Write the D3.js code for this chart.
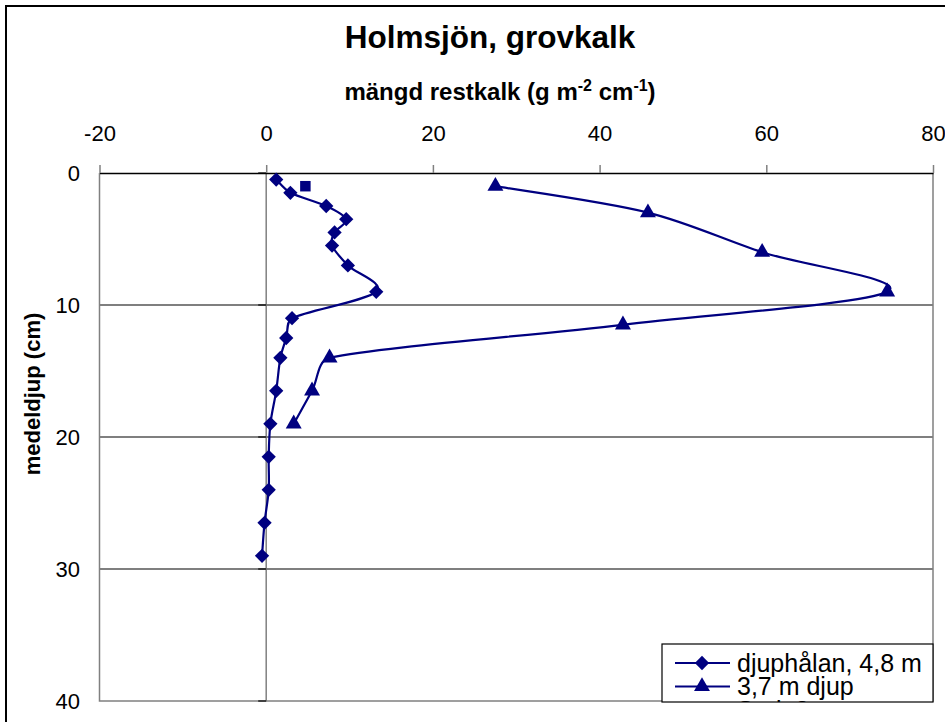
<!DOCTYPE html>
<html>
<head>
<meta charset="utf-8">
<script src="https://cdn.jsdelivr.net/npm/d3@7"></script>
<style>
  body { margin: 0; background: #fff; }
  svg { display: block; font-family: "Liberation Sans", Arial, sans-serif; }
</style>
</head>
<body>
<div id="chart"></div>
<script>
// series: djuphålan, 4,8 m
const depth1 = [0.5, 1.5, 2.5, 3.5, 4.5, 5.5, 7, 9, 11, 12.5, 14, 16.5, 19, 21.5, 24, 26.5, 29];
const value1 = [1.2, 2.9, 7.2, 9.6, 8.2, 7.9, 9.8, 13.2, 3.1, 2.4, 1.7, 1.2, 0.5, 0.3, 0.3, -0.2, -0.5];
// series: 3,7 m djup
const depth2 = [1, 3, 6, 9, 11.5, 14, 16.5, 19];
const value2 = [27.5, 45.8, 59.5, 74.5, 42.8, 7.6, 5.5, 3.3];
// Serie3 (single point)
const depth3 = [1];
const value3 = [4.7];

const xTicks = [-20, 0, 20, 40, 60, 80];
const yTicks = [0, 10, 20, 30, 40];
const gridDepths = [10, 20, 30];
const legendNames = ["djuphålan, 4,8 m", "3,7 m djup", "Serie3"];

const width = 945, height = 722;
const navy = "#000080";

// smoothing like the spreadsheet: bezier with control points at 1/6 of
// the neighbour span, but never longer than a third of the segment
function smoothCurve(context) {
    let pts = [];
    return {
        areaStart() {}, areaEnd() {},
        lineStart() { pts = []; },
        point(px, py) { pts.push([px, py]); },
        lineEnd() {
            let n = pts.length;
            if (!n) return;
            context.moveTo(pts[0][0], pts[0][1]);
            for (let i = 0; i < n - 1; i++) {
                let p0 = pts[Math.max(i - 1, 0)], p1 = pts[i],
                    p2 = pts[i + 1], p3 = pts[Math.min(i + 2, n - 1)];
                let seg = Math.hypot(p2[0] - p1[0], p2[1] - p1[1]);
                let c1 = ctrl(p1, p0, p2, seg, 1);
                let c2 = ctrl(p2, p1, p3, seg, -1);
                context.bezierCurveTo(c1[0], c1[1], c2[0], c2[1], p2[0], p2[1]);
            }
        }
    };
    function ctrl(p, a, b, seg, sign) {
        let tx = (b[0] - a[0]) / 6, ty = (b[1] - a[1]) / 6;
        let len = Math.hypot(tx, ty), cap = seg / 3;
        if (len > cap && len > 0) { tx *= cap / len; ty *= cap / len; }
        return [p[0] + sign * tx, p[1] + sign * ty];
    }
}

const svg = d3.select("#chart").append("svg")
    .attr("width", width)
    .attr("height", height);

// outer chart border
svg.append("rect")
    .attr("x", 6).attr("y", 6)
    .attr("width", 960).attr("height", 740)
    .attr("fill", "#fff")
    .attr("stroke", "#000")
    .attr("stroke-width", 2);

let x = d3.scaleLinear().domain([-20, 80]).range([99.5, 933]);
let y = d3.scaleLinear().domain([0, 40]).range([173, 701]);

// title
svg.append("text")
    .attr("x", 490).attr("y", 48)
    .attr("text-anchor", "middle")
    .attr("font-size", 31.5)
    .attr("font-weight", "bold")
    .text("Holmsjön, grovkalk");

// x axis title with superscripts
let xt = svg.append("text")
    .attr("x", 500).attr("y", 100)
    .attr("text-anchor", "middle")
    .attr("font-size", 24)
    .attr("font-weight", "bold");
xt.append("tspan").text("mängd restkalk (g m");
xt.append("tspan").attr("dy", -9).attr("font-size", 16).text("-2");
xt.append("tspan").attr("dy", 9).text(" cm");
xt.append("tspan").attr("dy", -9).attr("font-size", 16).text("-1");
xt.append("tspan").attr("dy", 9).text(")");

// y axis title
svg.append("text")
    .attr("transform", "translate(40,394)rotate(-90)")
    .attr("text-anchor", "middle")
    .attr("font-size", 22)
    .attr("font-weight", "bold")
    .text("medeldjup (cm)");

// gridlines
svg.append("g")
  .selectAll("line")
  .data(gridDepths)
  .join("line")
    .attr("x1", x(-20)).attr("x2", x(80))
    .attr("y1", d => y(d)).attr("y2", d => y(d))
    .attr("stroke", "#000")
    .attr("stroke-width", 1.2);

// plot border (gray)
svg.append("path")
    .attr("d", `M${x(-20)},${y(0)}V${y(40)}H${x(80)}V${y(0)}`)
    .attr("fill", "none")
    .attr("stroke", "#808080")
    .attr("stroke-width", 1.5);

// vertical axis at x = 0
svg.append("line")
    .attr("x1", x(0)).attr("x2", x(0))
    .attr("y1", y(0)).attr("y2", y(40))
    .attr("stroke", "#808080")
    .attr("stroke-width", 1.5);

svg.append("g")
  .selectAll("line")
  .data(yTicks)
  .join("line")
    .attr("x1", x(0) - 8).attr("x2", x(0))
    .attr("y1", d => y(d)).attr("y2", d => y(d))
    .attr("stroke", "#000")
    .attr("stroke-width", 1.2);

// top x axis
let xAxis = d3.axisTop(x)
    .tickValues(xTicks)
    .tickSize(8)
    .tickSizeOuter(0)
    .tickPadding(24)
    .tickFormat(d => String(d));

let gx = svg.append("g")
    .attr("transform", "translate(0," + y(0) + ")")
    .call(xAxis);
gx.select(".domain").attr("stroke", "#000").attr("stroke-width", 1.5);
gx.selectAll(".tick line").attr("stroke", "#808080").attr("stroke-width", 1.5);
gx.selectAll(".tick text")
    .attr("font-family", "Liberation Sans, Arial, sans-serif")
    .attr("font-size", 22)
    .attr("fill", "#000");

// y tick labels on the left
svg.append("g")
  .selectAll("text")
  .data(yTicks)
  .join("text")
    .attr("x", 80)
    .attr("y", d => y(d))
    .attr("dy", "0.35em")
    .attr("text-anchor", "end")
    .attr("font-size", 22)
    .text(d => d);

// smoothed lines
let line = d3.line()
    .x(d => x(d[1]))
    .y(d => y(d[0]))
    .curve(smoothCurve);

let s1 = depth1.map((d, i) => [d, value1[i]]);
let s2 = depth2.map((d, i) => [d, value2[i]]);
let s3 = depth3.map((d, i) => [d, value3[i]]);

svg.append("path")
    .datum(s1)
    .attr("d", line)
    .attr("fill", "none")
    .attr("stroke", navy)
    .attr("stroke-width", 2.2);

svg.append("path")
    .datum(s2)
    .attr("d", line)
    .attr("fill", "none")
    .attr("stroke", navy)
    .attr("stroke-width", 2.2);

const diamond = d3.symbol().type(d3.symbolDiamond2).size(130);
const triangle = d3.symbol().type(d3.symbolTriangle).size(110);
const square = d3.symbol().type(d3.symbolSquare).size(110);

svg.append("g")
  .selectAll("path")
  .data(s1)
  .join("path")
    .attr("transform", d => `translate(${x(d[1])},${y(d[0])})`)
    .attr("d", diamond)
    .attr("fill", navy);

svg.append("g")
  .selectAll("path")
  .data(s2)
  .join("path")
    .attr("transform", d => `translate(${x(d[1])},${y(d[0])})`)
    .attr("d", triangle)
    .attr("fill", navy);

svg.append("g")
  .selectAll("path")
  .data(s3)
  .join("path")
    .attr("transform", d => `translate(${x(d[1])},${y(d[0])})`)
    .attr("d", square)
    .attr("fill", navy);

// legend (clipped at the bottom, as in the original)
let lx = 662, ly = 644, lw = 271, lh = 58;
svg.append("clipPath").attr("id", "legclip")
  .append("rect").attr("x", lx).attr("y", ly).attr("width", lw).attr("height", lh);

let legend = svg.append("g").attr("clip-path", "url(#legclip)");
legend.append("rect")
    .attr("x", lx).attr("y", ly)
    .attr("width", lw).attr("height", lh)
    .attr("fill", "#fff");

let markers = [diamond, triangle, square];
legendNames.forEach(function(name, i) {
    let ry = 663 + i * 23.5;
    if (i < 2) {
        legend.append("line")
            .attr("x1", 675).attr("x2", 730)
            .attr("y1", ry).attr("y2", ry)
            .attr("stroke", navy)
            .attr("stroke-width", 2.2);
    }
    legend.append("path")
        .attr("transform", `translate(702,${ry})`)
        .attr("d", markers[i])
        .attr("fill", navy);
    legend.append("text")
        .attr("x", 737).attr("y", ry)
        .attr("dy", "0.35em")
        .attr("font-size", 25)
        .text(name);
});

svg.append("rect")
    .attr("x", lx).attr("y", ly)
    .attr("width", lw).attr("height", lh)
    .attr("fill", "none")
    .attr("stroke", "#000")
    .attr("stroke-width", 1.2);
</script>
</body>
</html>
